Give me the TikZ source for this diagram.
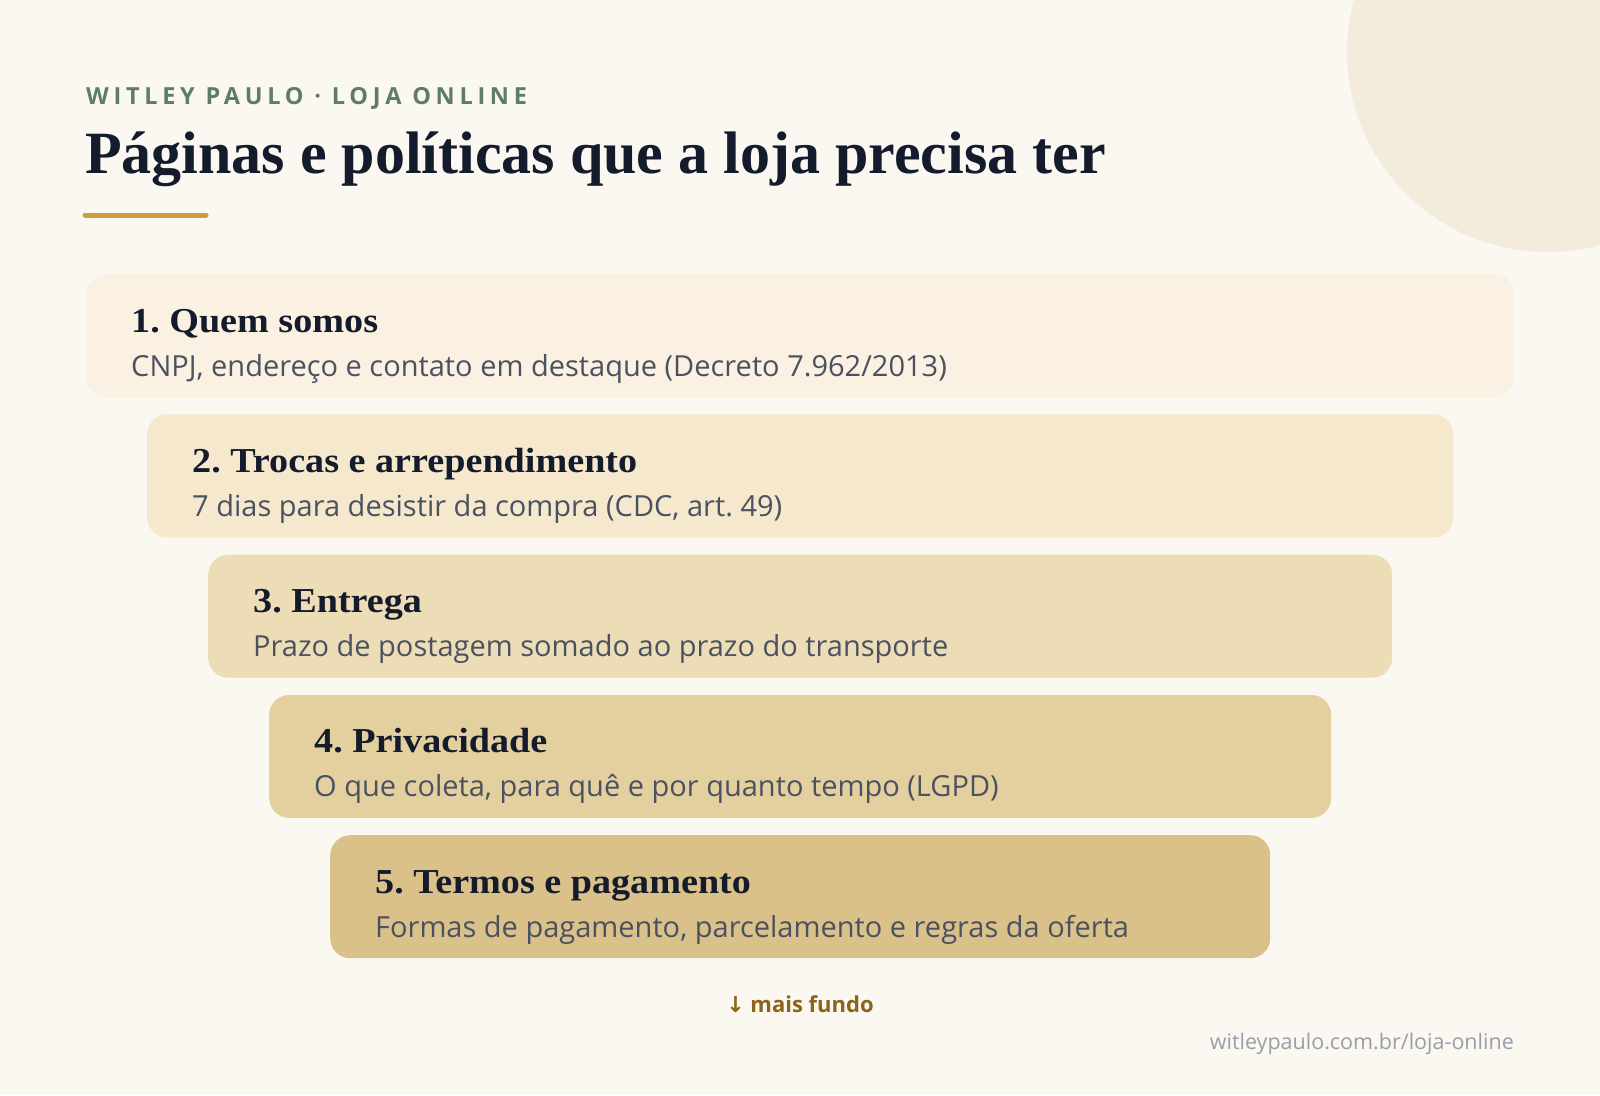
\documentclass[tikz,border=0pt]{standalone}
\usepackage{fontspec}
\setmainfont{Liberation Serif}
\setsansfont{Open Sans}
\newfontfamily\boxserif[FakeStretch=1.09]{Liberation Serif}
\newfontfamily\headfont[LetterSpace=20]{Open Sans}
\newfontfamily\arrowfont{DejaVu Sans}
\definecolor{bg}{HTML}{FBF8F1}
\definecolor{circ}{HTML}{F3ECDC}
\definecolor{headc}{HTML}{5E7D68}
\definecolor{titlec}{HTML}{141B2D}
\definecolor{goldl}{HTML}{CB9F3E}
\definecolor{subc}{HTML}{4A5160}
\definecolor{boxa}{HTML}{FBF1E2}
\definecolor{boxb}{HTML}{F5E8CC}
\definecolor{boxc}{HTML}{EDDDB6}
\definecolor{boxd}{HTML}{E4CF9F}
\definecolor{boxe}{HTML}{DAC18A}
\definecolor{deepc}{HTML}{8B6418}
\definecolor{urlc}{HTML}{9A9EA9}
\frenchspacing
\begin{document}
\begin{tikzpicture}[x=1pt,y=-1pt,
  stepbox/.style={rectangle, rounded corners=20pt, draw=none, anchor=north west, minimum height=123pt, inner sep=0pt},
  boxtitle/.style={anchor=base west, inner sep=0pt, text=titlec, font=\boxserif\fontsize{35}{40}\selectfont\bfseries},
  boxsub/.style={anchor=base west, inner sep=0pt, text=subc, font=\sffamily\fontsize{29}{34}\selectfont}
]
\useasboundingbox (0,0) rectangle (1600,1095);
\fill[bg] (0,0) rectangle (1600,1095);
\begin{scope}
\clip (0,0) rectangle (1600,1095);
\fill[circ] (1547,52) circle[radius=200pt];
\end{scope}

\node[anchor=base west, inner sep=0pt, text=headc, font=\headfont\bfseries\fontsize{23.5}{28}\selectfont] (head) at (86,104) {WITLEY PAULO · LOJA ONLINE};
\node[anchor=base west, inner sep=0pt, text=titlec, font=\fontsize{60}{70}\selectfont\bfseries] (title) at (85,173) {Páginas e políticas que a loja precisa ter};
\draw[goldl, line width=5pt, line cap=round] (85,215) -- (206,215);

\node[stepbox, fill=boxa, minimum width=1428pt] (b1) at (86,274) {};
\node[stepbox, fill=boxb, minimum width=1306pt] (b2) at (147,414.25) {};
\node[stepbox, fill=boxc, minimum width=1184pt] (b3) at (208,554.5) {};
\node[stepbox, fill=boxd, minimum width=1062pt] (b4) at (269,694.75) {};
\node[stepbox, fill=boxe, minimum width=940pt] (b5) at (330,835) {};

\node[boxtitle] (t1) at (131,332) {1. Quem somos};
\node[boxsub] (s1) at (131,376) {CNPJ, endereço e contato em destaque (Decreto 7.962/2013)};
\node[boxtitle] (t2) at (192,472.25) {2. Trocas e arrependimento};
\node[boxsub] (s2) at (192,516.25) {7 dias para desistir da compra (CDC, art. 49)};
\node[boxtitle] (t3) at (253,612.5) {3. Entrega};
\node[boxsub] (s3) at (253,656.5) {Prazo de postagem somado ao prazo do transporte};
\node[boxtitle] (t4) at (314,752.75) {4. Privacidade};
\node[boxsub] (s4) at (314,796.75) {O que coleta, para quê e por quanto tempo (LGPD)};
\node[boxtitle] (t5) at (375,893) {5. Termos e pagamento};
\node[boxsub] (s5) at (375,937) {Formas de pagamento, parcelamento e regras da oferta};

\node[anchor=base, inner sep=0pt, text=deepc, font=\sffamily\bfseries\fontsize{22}{26}\selectfont] (deep) at (800,1012) {{\arrowfont\bfseries ↓} mais fundo};
\node[anchor=base east, inner sep=0pt, text=urlc, font=\sffamily\fontsize{21.5}{26}\selectfont] (url) at (1514,1049) {witleypaulo.com.br/loja-online};
\end{tikzpicture}
\end{document}
